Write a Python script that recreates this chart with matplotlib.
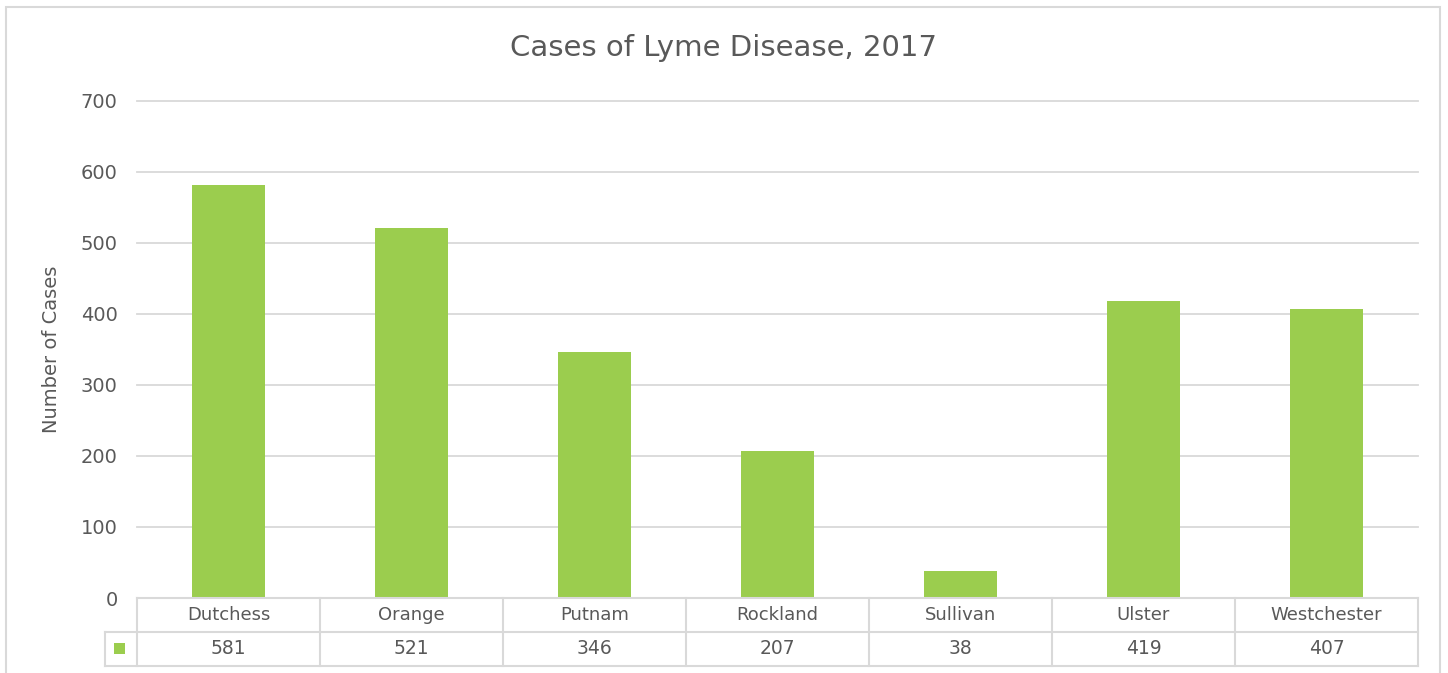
import matplotlib
matplotlib.use("Agg")
import matplotlib.pyplot as plt
from matplotlib.patches import Rectangle
from matplotlib.lines import Line2D
import matplotlib.transforms as mtransforms

counties = ["Dutchess", "Orange", "Putnam", "Rockland", "Sullivan", "Ulster", "Westchester"]
cases = [581, 521, 346, 207, 38, 419, 407]
yticks = [0, 100, 200, 300, 400, 500, 600, 700]

W, H = 1448, 673
GREEN = "#9BCD4E"
TXT = "#595959"
GRID = "#D9D9D9"
FONT = ["DejaVu Sans"]
plt.rcParams["font.family"] = FONT

fig = plt.figure(figsize=(W / 100, H / 100), dpi=100)

def fx(px):
    return px / W

def fy(py):
    return 1 - py / H

left, right, top, bottom = 137, 1418, 101, 598
ax = fig.add_axes([fx(left), fy(bottom), fx(right - left), (bottom - top) / H])
x = list(range(len(counties)))
ax.bar(x, cases, width=0.4, color=GREEN, zorder=2)
ax.set_xlim(-0.5, len(counties) - 0.5)
ax.set_ylim(0, 700)
ax.set_yticks(yticks)
ax.set_yticklabels([str(v) for v in yticks], fontsize=14, color=TXT)
ax.tick_params(axis="y", length=0, pad=14)
ax.set_xticks([])
ax.grid(axis="y", color=GRID, linewidth=1.3, zorder=0)
for gl in ax.get_ygridlines():
    gl.set_clip_on(False)
for s in ax.spines.values():
    s.set_visible(False)
ax.set_ylabel("Number of Cases", fontsize=14, color=TXT, labelpad=14)

# Title
fig.text(0.5, fy(48), "Cases of Lyme Disease, 2017", ha="center", va="center",
         fontsize=21, color=TXT)

# Outer chart border
fig.add_artist(Rectangle((fx(6), fy(680)), fx(1434), (680 - 7) / H, transform=fig.transFigure,
                         fill=False, edgecolor=GRID, linewidth=1.5))

# Data table
row_h = 34
r1, r2, r3 = bottom, bottom + row_h, bottom + 2 * row_h
col_w = (right - left) / len(counties)
key_left = 105

def hline(y, x0, x1):
    fig.add_artist(Line2D([fx(x0), fx(x1)], [fy(y), fy(y)], transform=fig.transFigure,
                          color=GRID, linewidth=1.5))

def vline(xp, y0, y1):
    fig.add_artist(Line2D([fx(xp), fx(xp)], [fy(y0), fy(y1)], transform=fig.transFigure,
                          color=GRID, linewidth=1.5))

hline(r1, left, right)
hline(r2, key_left, right)
hline(r3, key_left, right)
vline(key_left, r2, r3)
for i in range(len(counties) + 1):
    vline(left + i * col_w, r1, r3)

trans = mtransforms.blended_transform_factory(ax.transData, fig.transFigure)
for i, (name, v) in enumerate(zip(counties, cases)):
    ax.text(i, fy((r1 + r2) / 2), name, transform=trans, ha="center", va="center",
            fontsize=13, color=TXT, clip_on=False)
    ax.text(i, fy((r2 + r3) / 2), str(v), transform=trans, ha="center", va="center",
            fontsize=13.5, color=TXT, clip_on=False)

# legend key
fig.add_artist(Rectangle((fx(114), fy(654)), fx(11), 11 / H, transform=fig.transFigure,
                         facecolor=GREEN, edgecolor="none"))

fig.savefig("out.png", dpi=100, facecolor="white")
